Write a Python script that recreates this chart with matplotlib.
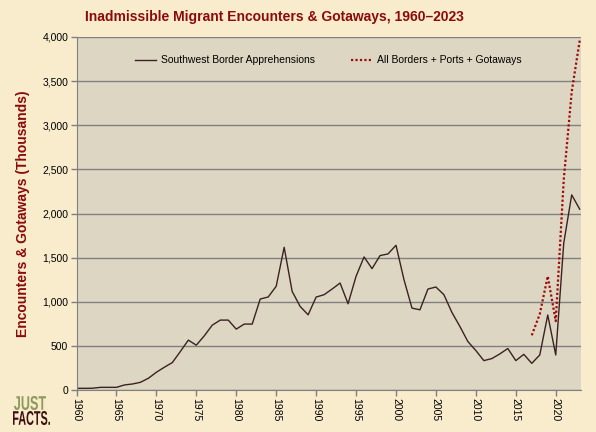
import matplotlib.pyplot as plt
from matplotlib.textpath import TextPath
from matplotlib.patches import PathPatch
from matplotlib.font_manager import FontProperties
from matplotlib.transforms import Affine2D

# Southwest Border apprehensions, thousands, 1960-2023
years = list(range(1960, 2024))
southwest = [19, 19, 20, 30, 30, 30, 57, 68, 87, 133,
             201, 258, 311, 436, 565, 508, 614, 735, 792, 792,
             690, 747, 747, 1031, 1054, 1175, 1617, 1117, 947, 852,
             1053, 1080, 1144, 1212, 977, 1288, 1508, 1375, 1523, 1542,
             1640, 1250, 928, 909, 1144, 1167, 1080, 879, 720, 549,
             447, 333, 356, 409, 470, 333, 404, 302, 397, 850,
             397, 1663, 2211, 2049]

# All borders + ports + gotaways, thousands, 2017-2023
all_years = [2017, 2018, 2019, 2020, 2021, 2022, 2023]
all_total = [620, 860, 1290, 780, 2380, 3380, 3960]

x_ticks = list(range(1960, 2021, 5))
y_ticks = list(range(0, 4001, 500))

dark_red = '#8B0A0A'
bg = '#F8ECCD'

plt.rcParams['font.family'] = ['Liberation Sans', 'DejaVu Sans']

fig = plt.figure(figsize=(5.96, 4.32), dpi=100, facecolor=bg)
ax = fig.add_axes([76.5 / 596, 42 / 432, 504 / 596, 353 / 432])
ax.set_facecolor('#DDD6C3')

ax.plot(years, southwest, color='#3A2222', lw=1.0, label='Southwest Border Apprehensions')
ax.plot(all_years, all_total, color='#A00A0A', lw=1.6, linestyle=(0, (1, 1)),
        label='All Borders + Ports + Gotaways')

ax.set_xlim(1960, 2023.1)
ax.set_ylim(0, 4000)
ax.set_xticks(x_ticks)
ax.set_xticklabels([str(y) for y in x_ticks], rotation=270, fontsize=7.5)
ax.set_yticks(y_ticks)
ax.set_yticklabels([f'{v:,}' for v in y_ticks], fontsize=7.5)
ax.yaxis.grid(True, color='#808080', lw=1.0)
ax.set_axisbelow(True)
ax.tick_params(axis='both', color='#808080', length=4, width=1, pad=2, labelcolor='black')

for side in ['top', 'right']:
    ax.spines[side].set_visible(False)
for side in ['left', 'bottom']:
    ax.spines[side].set_color('#808080')

ax.set_ylabel('Encounters & Gotaways (Thousands)', color=dark_red, fontsize=10,
              fontweight='bold', labelpad=9)
fig.text(274 / 596, 0.96, 'Inadmissible Migrant Encounters & Gotaways, 1960\u20132023',
         ha='center', va='center', color=dark_red, fontsize=10, fontweight='bold')

ax.legend(loc='upper center', bbox_to_anchor=(0.5, 0.975), ncol=2, frameon=False,
          fontsize=7.5, handlelength=2.0, columnspacing=3.5, handletextpad=0.5)


# logo: condensed bold words squeezed into a pixel box
def logo_word(text, color, x0, y0, w, h):
    tp = TextPath((0, 0), text, size=20, prop=FontProperties(family='Liberation Sans', weight='bold'))
    ext = tp.get_extents()
    tr = (Affine2D().translate(-ext.x0, -ext.y0)
          .scale(w / ext.width, h / ext.height).translate(x0, y0))
    fig.add_artist(PathPatch(tp, transform=tr, facecolor=color, edgecolor='none'))


logo_word('JUST', '#8C9A5A', 14, 22, 32, 14)
logo_word('FACTS.', '#3A1010', 13, 7, 37, 14)

fig.savefig('out.png', dpi=100, facecolor=bg)
